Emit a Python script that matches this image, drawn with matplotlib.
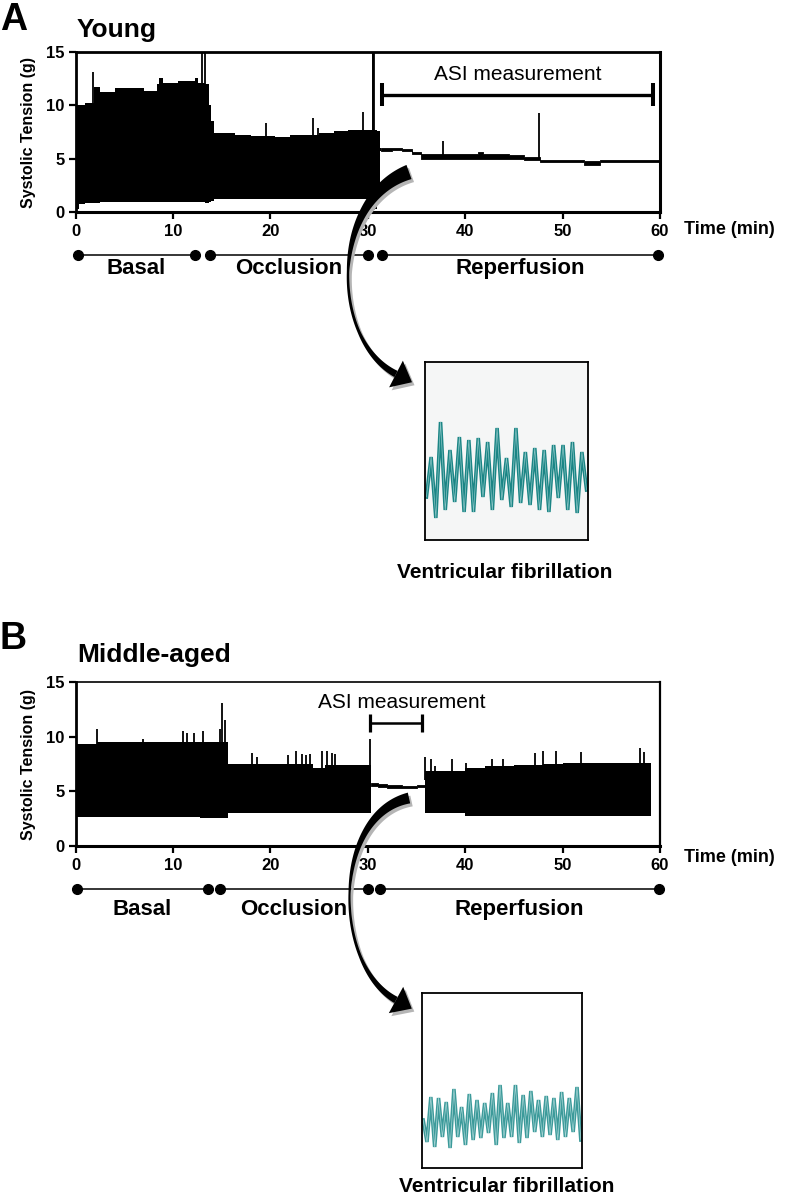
import numpy as np
import matplotlib
matplotlib.use("Agg")
import matplotlib.pyplot as plt
from matplotlib.patches import Polygon
from matplotlib.transforms import blended_transform_factory

plt.rcParams["font.family"] = ["Liberation Sans", "DejaVu Sans"]

W, H = 788, 1198

# ---- Young: envelope of the systolic tension recording (time in min, tension in g)
young_t = [0.0, 0.3, 1.0, 1.9, 2.5, 4.0, 7.0, 8.3, 8.6, 9.0, 10.5, 12.2, 12.6, 13.3,
           13.7, 13.9, 14.2, 16.4, 18.0, 20.5, 22.0, 25.0, 26.5, 28.0, 30.6, 30.9, 31.2, 31.3]
young_hi = [10.0, 10.0, 10.2, 11.7, 11.25, 11.6, 11.3, 12.0, 12.6, 12.1, 12.3, 12.6, 12.1, 12.0,
            10.0, 8.5, 7.4, 7.2, 7.1, 7.0, 7.2, 7.4, 7.6, 7.7, 7.7, 7.6, 6.0, 6.0]
young_lo = [0.3, 0.75, 0.8, 0.8, 0.9, 0.95, 0.95, 0.95, 0.95, 0.95, 0.95, 0.9, 0.9, 0.8,
            0.9, 1.0, 1.2, 1.2, 1.2, 1.2, 1.2, 1.2, 1.2, 1.2, 0.3, 1.0, 5.7, 5.7]
young_spike_t = [1.8, 13.0, 13.25, 19.5, 24.4, 24.9, 29.5, 30.5, 37.7, 47.6]
young_spike_h = [13.1, 15.0, 15.0, 8.3, 8.8, 7.9, 9.4, 15.0, 6.7, 9.3]
# reperfusion (young)
young_rep_t = [31.3, 32.5, 33.5, 34.5, 35.5, 41.3, 41.8, 44.5, 46.0, 47.65, 52.2, 53.8, 60.0]
young_rep_hi = [6.0, 6.0, 5.9, 5.6, 5.4, 5.6, 5.4, 5.3, 5.2, 4.85, 4.75, 4.85, 4.85]
young_rep_lo = [5.75, 5.8, 5.7, 5.4, 5.0, 5.0, 5.0, 5.0, 4.9, 4.7, 4.45, 4.7, 4.7]

# ---- Middle-aged
mid_t = [0.0, 2.2, 12.8, 15.6, 24.4, 25.6, 30.3]
mid_hi = [9.3, 9.55, 9.5, 7.5, 7.1, 7.45, 7.45]
mid_lo = [2.68, 2.68, 2.6, 3.0, 3.0, 3.0, 3.0]
mid_asi_t = [30.3, 31.0, 32.0, 33.5, 35.0, 35.9]
mid_asi_hi = [5.8, 5.7, 5.55, 5.5, 5.6, 5.6]
mid_asi_lo = [5.5, 5.4, 5.3, 5.3, 5.4, 5.4]
mid_rep_t = [35.9, 37.5, 40.0, 42.0, 45.0, 48.0, 50.0, 59.1]
mid_rep_hi = [6.85, 6.9, 7.1, 7.3, 7.4, 7.5, 7.6, 7.6]
mid_rep_lo = [3.0, 3.0, 2.75, 2.75, 2.75, 2.75, 2.75, 2.75]
mid_spike_t = [2.15, 6.9, 11.0, 11.4, 12.1, 13.1, 14.8, 15.0, 15.3, 18.1, 18.6, 21.8, 22.6,
               23.2, 23.6, 24.1, 25.3, 25.8, 26.3, 26.6, 30.2,
               35.9, 36.5, 36.9, 38.6, 40.1, 42.7, 43.9, 47.2, 48.0, 49.3, 51.9, 57.9, 58.4]
mid_spike_h = [10.7, 9.8, 10.5, 10.3, 10.3, 10.5, 10.7, 13.1, 11.5, 8.5, 8.1, 8.3, 8.7,
               8.4, 8.3, 8.4, 8.7, 8.7, 8.5, 8.4, 9.8,
               8.1, 7.95, 7.3, 8.0, 7.6, 7.95, 8.0, 8.5, 8.7, 8.7, 8.6, 9.0, 8.6]

# ASI measurement windows (min) and bar height (g)
young_asi = (31.5, 59.3, 11.0)
mid_asi = (30.2, 35.6, 11.25)

# phases: label, start, end
phase_labels = ["Basal", "Occlusion", "Reperfusion"]
young_phase_start = [0.2, 13.8, 31.5]
young_phase_end = [12.2, 30.0, 59.8]
mid_phase_start = [0.1, 14.8, 31.2]
mid_phase_end = [13.6, 30.0, 59.9]

# ventricular fibrillation traces (arbitrary units, peak/trough samples)
vf_young = [23, 63, 2, 98, 10, 70, 18, 83, 8, 80, 8, 82, 23, 78, 10, 92, 20, 62, 13,
            92, 17, 68, 15, 72, 10, 70, 8, 75, 22, 75, 10, 78, 7, 68, 30]
vf_mid = [30, 8, 53, 3, 52, 13, 48, 2, 61, 13, 43, 5, 56, 10, 50, 12, 47, 17, 57, 5, 65,
          12, 47, 13, 65, 7, 55, 12, 59, 18, 50, 13, 54, 15, 52, 10, 58, 13, 52, 18, 63, 10]


def fx(px):
    return px / W


def fy(py):
    return 1 - py / H


fig = plt.figure(figsize=(W / 100, H / 100), dpi=100)


def trace_axes(rect, top_lw, right_lw):
    ax = fig.add_axes(rect)
    ax.set_xlim(0, 60)
    ax.set_ylim(0, 15)
    ax.set_xticks([0, 10, 20, 30, 40, 50, 60])
    ax.set_yticks([0, 5, 10, 15])
    ax.tick_params(direction="out", length=5, width=1.6, labelsize=12, pad=3)
    ax.tick_params(axis="x", pad=4)
    for lab in ax.get_xticklabels() + ax.get_yticklabels():
        lab.set_fontweight("bold")
    ax.spines["left"].set_linewidth(2.0)
    ax.spines["bottom"].set_linewidth(2.2)
    ax.spines["top"].set_linewidth(top_lw)
    ax.spines["right"].set_linewidth(right_lw)
    return ax


def phases(ax, starts, ends, yline, ylab):
    tr = blended_transform_factory(ax.transData, ax.transAxes)
    for lab, s, e in zip(phase_labels, starts, ends):
        ax.plot([s, e], [yline, yline], color="black", lw=1.1, marker="o", ms=7,
                transform=tr, clip_on=False)
        ax.text((s + e) / 2, ylab, lab, transform=tr, ha="center", va="center",
                fontsize=16, fontweight="bold")


def asi_bar(ax, asi, lw, cap, ytext):
    x0, x1, y = asi
    ax.plot([x0, x1], [y, y], color="black", lw=lw, solid_capstyle="butt")
    ax.vlines([x0, x1], y - cap, y + cap, color="black", lw=lw + 0.5)
    ax.text((x0 + x1) / 2 if x1 - x0 > 10 else 33.5, ytext, "ASI measurement",
            ha="center", va="center", fontsize=15)


# ---------------- Panel A ----------------
axA = trace_axes([fx(75.7), fy(212), (660 - 75.7) / W, 160 / H], 2.0, 2.2)
axA.fill_between(young_t, young_lo, young_hi, step="post", color="black", lw=0)
axA.fill_between(young_rep_t, young_rep_lo, young_rep_hi, step="post", color="black",
                 lw=0.6, edgecolor="black")
axA.vlines(young_spike_t, 5.0, young_spike_h, color="black", lw=1.3)
axA.vlines([30.5], 0.3, 15.0, color="black", lw=2.0)
asi_bar(axA, young_asi, 2.4, 1.05, 12.9)
phases(axA, young_phase_start, young_phase_end, -0.269, -0.356)

# ---------------- Panel B ----------------
axB = trace_axes([fx(75.7), fy(846), (660 - 75.7) / W, 164 / H], 1.2, 1.6)
axB.fill_between(mid_t, mid_lo, mid_hi, step="post", color="black", lw=0)
axB.fill_between(mid_asi_t, mid_asi_lo, mid_asi_hi, step="post", color="black",
                 lw=0.6, edgecolor="black")
axB.fill_between(mid_rep_t, mid_rep_lo, mid_rep_hi, step="post", color="black", lw=0)
axB.vlines(mid_spike_t, 6.0, mid_spike_h, color="black", lw=1.3)
asi_bar(axB, mid_asi, 1.8, 0.85, 13.1)
phases(axB, mid_phase_start, mid_phase_end, -0.262, -0.39)

# axis titles / panel labels
for yc, ytime in [(132, 230), (764, 857)]:
    fig.text(fx(29), fy(yc), "Systolic Tension (g)", rotation=90, ha="center",
             va="center", fontsize=11.5, fontweight="bold")
    fig.text(fx(684), fy(ytime), "Time (min)", ha="left", va="center",
             fontsize=13, fontweight="bold")
fig.text(fx(0), fy(30), "A", fontsize=27, fontweight="bold", va="baseline")
fig.text(fx(77), fy(37), "Young", fontsize=19, fontweight="bold", va="baseline")
fig.text(fx(0), fy(649), "B", fontsize=27, fontweight="bold", va="baseline")
fig.text(fx(77), fy(662), "Middle-aged", fontsize=19, fontweight="bold", va="baseline")

# ---------------- VF insets ----------------
def vf_inset(rect, vals, ylim, face, color, core):
    ax = fig.add_axes(rect)
    ax.set_facecolor(face)
    x = np.arange(len(vals))
    ax.plot(x, vals, color=color, lw=2.6, solid_joinstyle="miter")
    ax.plot(x, vals, color=core, lw=0.5)
    ax.set_xlim(-0.3, len(vals) - 0.7)
    ax.set_ylim(*ylim)
    ax.set_xticks([])
    ax.set_yticks([])
    for sp in ax.spines.values():
        sp.set_linewidth(1.3)
    return ax


vf_inset([fx(425), fy(540), 163 / W, 178 / H], vf_young, (-20, 158), "#f5f6f6",
         "#1b8585", "#8cc7c7")
vf_inset([fx(422), fy(1168), 160 / W, 175 / H], vf_mid, (-18, 157), "white",
         "#3c9a9a", "#a8d6d6")
fig.text(fx(505), fy(572), "Ventricular fibrillation", ha="center", va="center",
         fontsize=15, fontweight="bold")
fig.text(fx(507), fy(1187), "Ventricular fibrillation", ha="center", va="center",
         fontsize=15, fontweight="bold")

# ---------------- curved arrows (pixel overlay) ----------------
ov = fig.add_axes([0, 0, 1, 1], zorder=10)
ov.set_xlim(0, W)
ov.set_ylim(H, 0)
ov.axis("off")
ov.patch.set_alpha(0)


def swoosh(p0, p1, p2, p3, widths, head_len, head_w, shadow=(2.5, 3.0)):
    t = np.linspace(0, 1, 120)[:, None]
    P = [np.array(p, float) for p in (p0, p1, p2, p3)]
    c = (1 - t) ** 3 * P[0] + 3 * (1 - t) ** 2 * t * P[1] + 3 * (1 - t) * t ** 2 * P[2] + t ** 3 * P[3]
    d = 3 * (1 - t) ** 2 * (P[1] - P[0]) + 6 * (1 - t) * t * (P[2] - P[1]) + 3 * t ** 2 * (P[3] - P[2])
    d = d / np.linalg.norm(d, axis=1)[:, None]
    n = np.column_stack([-d[:, 1], d[:, 0]])
    w = np.interp(t[:, 0], [0, 0.25, 0.5, 0.75, 1.0], widths)[:, None]
    body = np.vstack([c + n * w / 2, (c - n * w / 2)[::-1]])
    u = d[-1]
    nn = n[-1]
    tip = P[3] + u * head_len
    head = np.array([P[3] + nn * head_w / 2, tip, P[3] - nn * head_w / 2])
    off = np.array(shadow)
    for poly, col, z in [(body + off, "#b5b5b5", 1), (head + off, "#b5b5b5", 1),
                         (body, "black", 2), (head, "black", 2)]:
        ov.add_patch(Polygon(poly, closed=True, facecolor=col, edgecolor="none", zorder=z))


swoosh((409, 172), (330, 200), (330, 340), (396, 374), [15, 8, 2.5, 3, 7], 18, 30)
swoosh((409, 798), (332, 815), (332, 965), (396, 1000), [11, 6, 2.2, 3, 7], 18, 30)

fig.savefig("out.png", dpi=100)
